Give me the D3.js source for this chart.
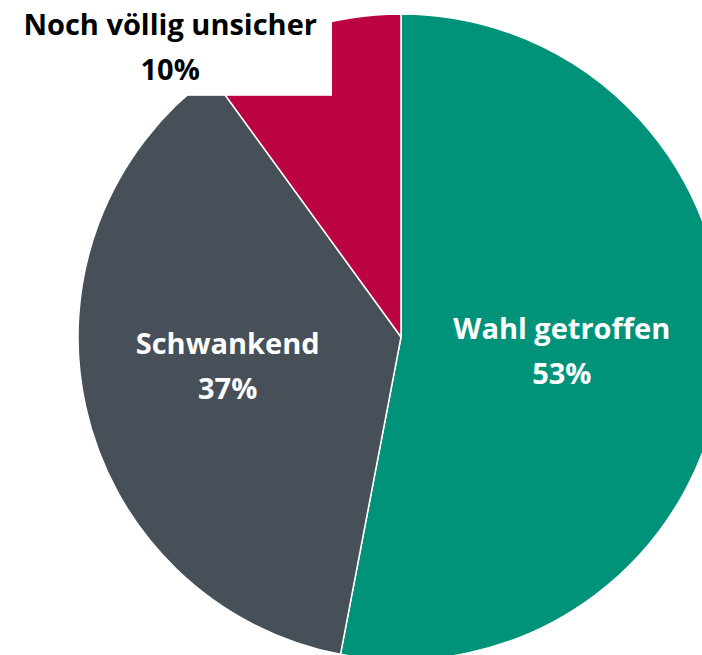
<!DOCTYPE html>
<html>
<head>
<meta charset="utf-8">
<script src="https://cdn.jsdelivr.net/npm/d3@7"></script>
<style>
  body { margin: 0; background: #fff; overflow: hidden; }
  text { font-family: "Open Sans", Lato, sans-serif; font-weight: 700; }
</style>
</head>
<body>
<div id="chart"></div>
<script>
// data
const categories = ['Wahl getroffen', 'Schwankend', 'Noch völlig unsicher'];
const shares = [53, 37, 10];
const colors = ['#00937a', '#474f59', '#bc0443'];

const width = 702, height = 655;
const cx = 401, cy = 337, radius = 323;

const svg = d3.select('#chart')
    .append('svg')
    .attr('width', width)
    .attr('height', height);

const g = svg.append('g')
    .attr('transform', 'translate(' + cx + ',' + cy + ')');

const pie = d3.pie().sort(null).value(d => d.value);
const data = categories.map((c, i) => ({ name: c, value: shares[i], color: colors[i] }));
const arcs = pie(data);

const arc = d3.arc().innerRadius(0).outerRadius(radius);
const labelRadius = [0.5, 0.55];

g.selectAll('path')
    .data(arcs)
    .enter()
    .append('path')
    .attr('d', arc)
    .attr('fill', d => d.data.color)
    .attr('stroke', '#fff')
    .attr('stroke-width', 1.5);

// inside labels
arcs.slice(0, 2).forEach((d, i) => {
    const r = radius * labelRadius[i];
    const [x, y] = d3.arc().innerRadius(r).outerRadius(r).centroid(d);
    const t = g.append('text')
        .attr('text-anchor', 'middle')
        .attr('fill', '#fff')
        .style('font-size', '29px')
        .attr('x', x)
        .attr('y', i === 0 ? y - 13 : y - 22);
    t.append('tspan').attr('x', x).text(d.data.name);
    t.append('tspan').attr('x', x).attr('dy', 45).text(d.data.value + '%');
});

// outside label with white background
const small = arcs[2];
const outer = d3.arc().innerRadius(radius).outerRadius(radius).centroid(small);
const lx = cx + outer[0] - 131, ly = cy + outer[1] + 5;
const lg = svg.append('g');
const bg = lg.append('rect').attr('fill', '#fff');
const lt = lg.append('text')
    .attr('text-anchor', 'middle')
    .attr('fill', '#000')
    .style('font-size', '29px')
    .attr('x', lx)
    .attr('y', ly);
lt.append('tspan').attr('x', lx).text(small.data.name);
lt.append('tspan').attr('x', lx).attr('dy', 45).text(small.data.value + '%');
const bb = lt.node().getBBox();
bg.attr('x', 0)
    .attr('y', 0)
    .attr('width', bb.x + bb.width + 15)
    .attr('height', bb.y + bb.height + 8);
</script>
</body>
</html>
